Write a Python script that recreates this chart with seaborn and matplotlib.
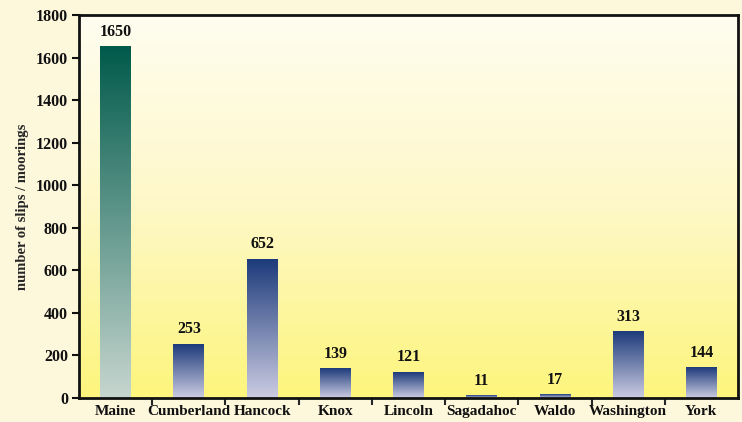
import numpy as np
import pandas as pd
import matplotlib
matplotlib.use("Agg")
import matplotlib.pyplot as plt
from matplotlib.colors import LinearSegmentedColormap
import seaborn as sns

counties = ["Maine", "Cumberland", "Hancock", "Knox", "Lincoln",
            "Sagadahoc", "Waldo", "Washington", "York"]
slips = [1650, 253, 652, 139, 121, 11, 17, 313, 144]
y_ticks = [0, 200, 400, 600, 800, 1000, 1200, 1400, 1600, 1800]

sns.set_theme(style="white")
plt.rcParams["font.family"] = ["Liberation Serif", "DejaVu Serif"]
plt.rcParams["font.weight"] = "bold"

df = pd.DataFrame({"county": counties, "slips": slips})

fig = plt.figure(figsize=(7.42, 4.22), dpi=100, facecolor="#fdf7dc")
ax = fig.add_axes([79 / 742, 24 / 422, 659 / 742, 383 / 422])

sns.barplot(data=df, x="county", y="slips", ax=ax, width=0.42,
            color="#1f3a7a", saturation=1)

ax.set_xlim(-0.5, len(counties) - 0.5)
ax.set_ylim(0, 1800)

# Background gradient: cream at the top fading into yellow at the bottom
bg_cmap = LinearSegmentedColormap.from_list("bg", ["#fdf57c", "#fef8c8", "#fffdf0"])
grad = np.linspace(0, 1, 256).reshape(-1, 1)
ax.imshow(grad, cmap=bg_cmap, aspect="auto", extent=(0, 1, 0, 1),
          transform=ax.transAxes, origin="lower", zorder=0)

state_cmap = LinearSegmentedColormap.from_list("state", ["#c6d6cf", "#005a4b"])
county_cmap = LinearSegmentedColormap.from_list("county", ["#cccce2", "#1d3b7b"])

for i, patch in enumerate(ax.patches):
    x0 = patch.get_x()
    w = patch.get_width()
    h = patch.get_height()
    cmap = state_cmap if i == 0 else county_cmap
    ax.imshow(grad, cmap=cmap, aspect="auto", extent=(x0, x0 + w, 0, h),
              origin="lower", zorder=2)
    patch.set_facecolor("none")
    patch.set_edgecolor("none")
    ax.text(x0 + w / 2, h + 32, f"{slips[i]}", ha="center", va="bottom",
            fontsize=11.5, fontweight="bold", color="#111111", zorder=3)

ax.set_xlim(-0.5, len(counties) - 0.5)
ax.set_ylim(0, 1800)
ax.set_yticks(y_ticks)
ax.set_yticklabels([str(t) for t in y_ticks], fontsize=11.5, fontweight="bold")
ax.set_xticks(range(len(counties)))
ax.set_xticklabels(counties, fontsize=11, fontweight="bold")
ax.set_xticks(np.arange(0.5, len(counties) - 0.5, 1), minor=True)

ax.tick_params(axis="y", which="major", direction="out", length=5, width=1.5,
               left=True, pad=3, colors="#111111")
ax.tick_params(axis="x", which="major", length=0, pad=5, colors="#111111")
ax.tick_params(axis="x", which="minor", direction="out", length=5, width=1.5,
               bottom=True)

for side in ["left", "bottom", "right", "top"]:
    ax.spines[side].set_visible(True)
    ax.spines[side].set_color("#111111")
    ax.spines[side].set_linewidth(2)

ax.set_xlabel("")
ax.set_ylabel("number of slips / moorings", fontsize=10.5, fontweight="bold",
              labelpad=5)

fig.savefig("out.png", dpi=100, facecolor=fig.get_facecolor())
